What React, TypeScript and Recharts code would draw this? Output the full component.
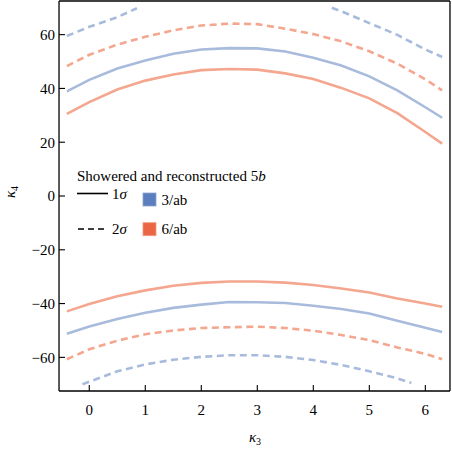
import React from "react";
import { LineChart, Line, XAxis, YAxis } from "recharts";

// kappa_3 grid for the main contours
const kappa3 = [-0.4, 0, 0.5, 1, 1.5, 2, 2.5, 3, 3.5, 4, 4.5, 5, 5.5, 6, 6.3];

// 3/ab, 1 sigma (upper / lower branch)
const blue1Upper = [38.9, 43.2, 47.4, 50.4, 52.9, 54.5, 55.0, 54.9, 53.7, 51.4, 48.5, 44.5, 39.3, 33.0, 29.1];
const blue1Lower = [-51.2, -48.5, -45.7, -43.4, -41.6, -40.4, -39.4, -39.5, -39.8, -40.8, -42.0, -43.7, -46.4, -49.0, -50.6];
// 6/ab, 1 sigma
const orange1Upper = [30.5, 34.9, 39.6, 42.9, 45.2, 46.8, 47.2, 47.0, 45.6, 43.5, 40.2, 36.3, 30.8, 23.8, 19.5];
const orange1Lower = [-42.9, -40.2, -37.3, -35.1, -33.4, -32.3, -31.8, -31.8, -32.2, -33.1, -34.4, -35.9, -38.1, -40.0, -41.2];
// 6/ab, 2 sigma
const orange2Upper = [48.3, 52.5, 56.3, 59.2, 61.6, 63.4, 64.1, 63.9, 62.2, 60.2, 57.5, 53.8, 49.2, 43.4, 39.3];
const orange2Lower = [-60.7, -57.0, -53.8, -51.4, -50.0, -49.1, -48.8, -48.6, -49.1, -50.1, -51.7, -53.6, -56.3, -58.7, -60.7];
// 3/ab, 2 sigma (own grids, branches end inside the frame)
const blue2UpperK3 = [-0.4, 0, 0.5, 0.85, 2.5, 4.33, 4.5, 5, 5.5, 6, 6.3];
const blue2Upper = [59.5, 62.9, 66.5, 69.8, null, 70.0, 68.7, 64.3, 59.9, 54.5, 51.7];
const blue2LowerK3 = [-0.12, 0.5, 1, 1.5, 2, 2.5, 3, 3.5, 4, 4.5, 5, 5.5, 5.75];
const blue2Lower = [-70.0, -65.2, -62.6, -60.9, -59.8, -59.2, -59.2, -59.8, -61.0, -62.8, -65.2, -67.8, -69.5];

// ticks
const xMajorTicks = [0, 1, 2, 3, 4, 5, 6];
const xMinorTicks = [
  -0.4, -0.2, 0, 0.2, 0.4, 0.6, 0.8, 1, 1.2, 1.4, 1.6, 1.8, 2, 2.2, 2.4, 2.6, 2.8, 3,
  3.2, 3.4, 3.6, 3.8, 4, 4.2, 4.4, 4.6, 4.8, 5, 5.2, 5.4, 5.6, 5.8, 6, 6.2, 6.4,
];
const yMajorTicks = [-60, -40, -20, 0, 20, 40, 60];
const yMinorTicks = [
  -70, -65, -60, -55, -50, -45, -40, -35, -30, -25, -20, -15, -10, -5, 0,
  5, 10, 15, 20, 25, 30, 35, 40, 45, 50, 55, 60, 65, 70,
];

const xDomain: [number, number] = [-0.54, 6.44];
const yDomain: [number, number] = [-72.5, 72.5];

const BLUE_LINE = "#a8bbdc";
const ORANGE_LINE = "#f4a68f";
const BLUE_BOX = "#5b7fbe";
const ORANGE_BOX = "#eb6644";
const FONT = "'Liberation Serif', 'DejaVu Serif', serif";

const zip = (xs: number[], ys: (number | null)[]) => xs.map((x, i) => ({ x, y: ys[i] }));

const fmt = (v: number) => (v < 0 ? "\u2212" + Math.abs(v) : String(v));

const axisLine = { stroke: "#000", strokeWidth: 1.3 };
const tickLine = { stroke: "#000", strokeWidth: 1.1 };
const tickFont = { fill: "#000", fontSize: 15, fontFamily: FONT };
const THIN = 0.01;

export default function App() {
  const series = [
    { key: "b1u", data: zip(kappa3, blue1Upper), color: BLUE_LINE, dash: undefined },
    { key: "b1l", data: zip(kappa3, blue1Lower), color: BLUE_LINE, dash: undefined },
    { key: "o1u", data: zip(kappa3, orange1Upper), color: ORANGE_LINE, dash: undefined },
    { key: "o1l", data: zip(kappa3, orange1Lower), color: ORANGE_LINE, dash: undefined },
    { key: "o2u", data: zip(kappa3, orange2Upper), color: ORANGE_LINE, dash: "7 4.5" },
    { key: "o2l", data: zip(kappa3, orange2Lower), color: ORANGE_LINE, dash: "7 4.5" },
    { key: "b2u", data: zip(blue2UpperK3, blue2Upper), color: BLUE_LINE, dash: "7 4.5" },
    { key: "b2l", data: zip(blue2LowerK3, blue2Lower), color: BLUE_LINE, dash: "7 4.5" },
  ];

  return (
    <div style={{ position: "fixed", left: 0, top: 0, width: 452, height: 449, background: "#fff" }}>
      <LineChart width={452} height={449} margin={{ top: 1, right: 2, bottom: 58, left: 59 }}>
        {/* major ticks + frame */}
        <XAxis xAxisId="b" orientation="bottom" type="number" dataKey="x" domain={xDomain} allowDataOverflow
          ticks={xMajorTicks} interval={0} height={THIN} tickSize={-6} tickMargin={19.5}
          tick={tickFont} tickFormatter={fmt} axisLine={axisLine} tickLine={tickLine} />
        <XAxis xAxisId="t" orientation="top" type="number" dataKey="x" domain={xDomain} allowDataOverflow
          ticks={xMajorTicks} interval={0} height={THIN} tickSize={-6} tick={false} axisLine={axisLine} tickLine={tickLine} />
        <YAxis yAxisId="l" orientation="left" type="number" domain={yDomain} allowDataOverflow
          ticks={yMajorTicks} interval={0} width={THIN} tickSize={-6} tickMargin={10}
          tick={tickFont} tickFormatter={fmt} axisLine={axisLine} tickLine={tickLine} />
        <YAxis yAxisId="r" orientation="right" type="number" domain={yDomain} allowDataOverflow
          ticks={yMajorTicks} interval={0} width={THIN} tickSize={-6} tick={false} axisLine={axisLine} tickLine={tickLine} />
        {/* minor ticks */}
        <XAxis xAxisId="bm" orientation="bottom" type="number" dataKey="x" domain={xDomain} allowDataOverflow
          ticks={xMinorTicks} interval={0} height={THIN} tickSize={-3.5} tick={false} axisLine={false} tickLine={tickLine} />
        <XAxis xAxisId="tm" orientation="top" type="number" dataKey="x" domain={xDomain} allowDataOverflow
          ticks={xMinorTicks} interval={0} height={THIN} tickSize={-3.5} tick={false} axisLine={false} tickLine={tickLine} />
        <YAxis yAxisId="lm" orientation="left" type="number" domain={yDomain} allowDataOverflow
          ticks={yMinorTicks} interval={0} width={THIN} tickSize={-3.5} tick={false} axisLine={false} tickLine={tickLine} />
        <YAxis yAxisId="rm" orientation="right" type="number" domain={yDomain} allowDataOverflow
          ticks={yMinorTicks} interval={0} width={THIN} tickSize={-3.5} tick={false} axisLine={false} tickLine={tickLine} />

        {series.map((s) => (
          <Line key={s.key} xAxisId="b" yAxisId="l" data={s.data} dataKey="y" type="linear"
            stroke={s.color} strokeWidth={2.6} strokeDasharray={s.dash} dot={false} activeDot={false}
            connectNulls={false} isAnimationActive={false} />
        ))}
      </LineChart>

      <svg width={452} height={449} style={{ position: "absolute", left: 0, top: 0, pointerEvents: "none" }}
        fontFamily={FONT} fill="#000">
        {/* axis labels */}
        <text x={255} y={442} fontSize={15} textAnchor="middle">
          <tspan fontStyle="italic">κ</tspan>
          <tspan fontSize={10} dy={3}>3</tspan>
        </text>
        <text transform="translate(15,192) rotate(-90)" fontSize={15} textAnchor="middle">
          <tspan fontStyle="italic">κ</tspan>
          <tspan fontSize={10} dy={3}>4</tspan>
        </text>

        {/* legend */}
        <text x={77} y={181} fontSize={15}>
          Showered and reconstructed 5<tspan fontStyle="italic">b</tspan>
        </text>
        <line x1={77} x2={108} y1={193.5} y2={193.5} stroke="#000" strokeWidth={1.6} />
        <text x={112} y={199} fontSize={15}>1<tspan fontStyle="italic">σ</tspan></text>
        <rect x={143} y={193} width={13} height={13} fill={BLUE_BOX} stroke="#8aa3cf" strokeWidth={0.8} />
        <text x={161.5} y={204.5} fontSize={15}>3/ab</text>

        <line x1={78} x2={104} y1={229} y2={229} stroke="#000" strokeWidth={1.6} strokeDasharray="6 4" />
        <text x={112} y={234} fontSize={15}>2<tspan fontStyle="italic">σ</tspan></text>
        <rect x={143} y={222.7} width={13} height={13} fill={ORANGE_BOX} stroke="#f29a80" strokeWidth={0.8} />
        <text x={161.5} y={234} fontSize={15}>6/ab</text>
      </svg>
    </div>
  );
}
